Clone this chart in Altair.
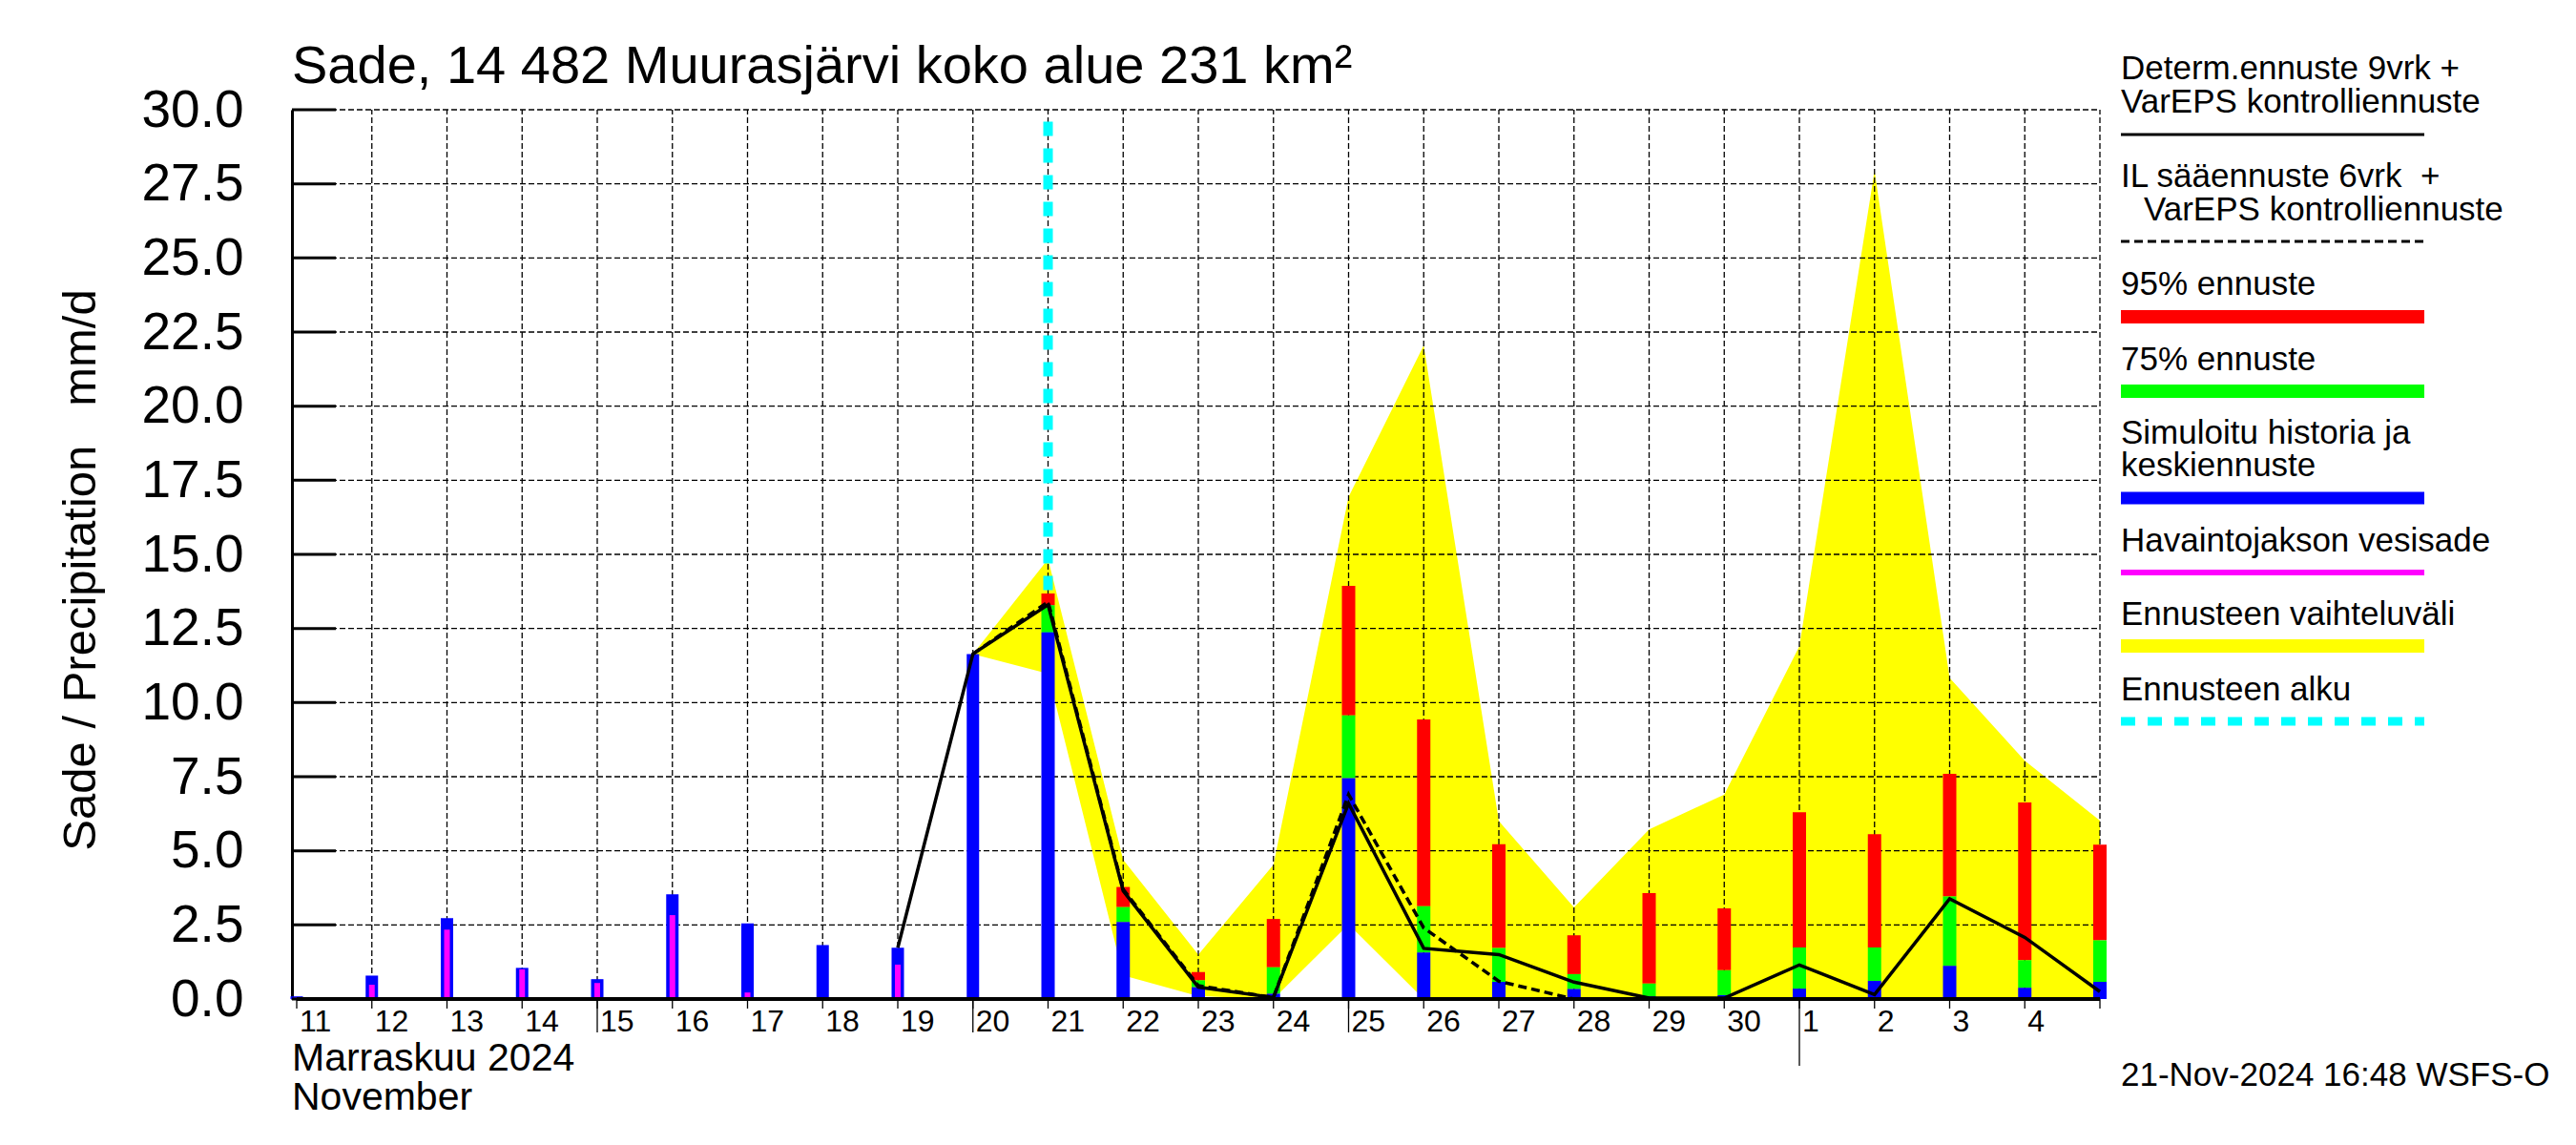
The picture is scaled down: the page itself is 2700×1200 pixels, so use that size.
import altair as alt
import pandas as pd

FONT = "Liberation Sans"

# ---------------- data (day index 0 = 11 Nov 2024, 24 = 5 Dec 2024) ----------------
day_labels = ["11", "12", "13", "14", "15", "16", "17", "18", "19", "20", "21", "22",
              "23", "24", "25", "26", "27", "28", "29", "30", "1", "2", "3", "4"]
grid_days = list(range(1, 25))
tick_days = list(range(0, 25))
long_tick_days = [4, 9, 14]
month_tick_days = [20]
y_ticks = [0, 2.5, 5, 7.5, 10, 12.5, 15, 17.5, 20, 22.5, 25, 27.5, 30]

hist_x = list(range(0, 11))
hist_blue = [0.09, 0.79, 2.73, 1.05, 0.67, 3.53, 2.55, 1.82, 1.73, 11.64, 12.37]
obs_x = list(range(0, 9))
obs_pink = [0.04, 0.48, 2.34, 1.00, 0.54, 2.83, 0.22, 0.02, 1.16]

fc_x = list(range(10, 25))
fc_blue = [12.37, 2.60, 0.40, 0.18, 7.45, 1.57, 0.58, 0.34, 0.09, 0.13, 0.35, 0.61, 1.12, 0.38, 0.58]
fc_green = [13.28, 3.10, 0.63, 1.07, 9.57, 3.13, 1.72, 0.84, 0.52, 0.97, 1.74, 1.74, 3.46, 1.31, 1.98]
fc_red = [13.68, 3.78, 0.91, 2.70, 13.94, 9.43, 5.22, 2.15, 3.57, 3.06, 6.30, 5.56, 7.60, 6.63, 5.21]

band_x = list(range(9, 25))
band_hi = [11.64, 14.84, 4.70, 1.50, 4.53, 16.94, 22.05, 6.00, 3.09, 5.72, 6.90, 11.90, 27.94, 10.83, 8.04, 6.02]
band_lo = [11.64, 10.98, 0.80, 0.10, 0.00, 2.52, 0.00, 0.00, 0.00, 0.00, 0.00, 0.00, 0.00, 0.00, 0.00, 0.00]

det_x = list(range(8, 25))
det_y = [1.73, 11.64, 13.30, 3.65, 0.40, 0.05, 6.60, 1.71, 1.50, 0.57, 0.03, 0.03, 1.15, 0.15, 3.38, 2.08, 0.25]

il_x = list(range(9, 19))
il_y = [11.64, 13.40, 3.70, 0.45, 0.05, 6.90, 2.40, 0.60, 0.00, 0.00]

forecast_start = [10]
forecast_start_top = [29.6]

title_text = "Sade, 14 482 Muurasjärvi koko alue 231 km²"
y_title = "Sade / Precipitation\u00a0\u00a0\u00a0mm/d"
month_fi = "Marraskuu 2024"
month_en = "November"
footer = "21-Nov-2024 16:48 WSFS-O"

legend_texts = [
    ("Determ.ennuste 9vrk +", 0, -32),
    ("VarEPS kontrolliennuste", 0, 3),
    ("IL sääennuste 6vrk\u00a0\u00a0+", 0, 81),
    ("VarEPS kontrolliennuste", 24, 116),
    ("95% ennuste", 0, 194),
    ("75% ennuste", 0, 273),
    ("Simuloitu historia ja", 0, 350),
    ("keskiennuste", 0, 384),
    ("Havaintojakson vesisade", 0, 463),
    ("Ennusteen vaihteluväli", 0, 540),
    ("Ennusteen alku", 0, 619),
]
# (y pixel, colour, width, dash)
legend_lines = [
    (26, "#000000", 3, None),
    (138, "#000000", 3, [9, 5]),
    (217, "#FF0000", 14, None),
    (295, "#00FF00", 14, None),
    (407, "#0000FF", 13, None),
    (485, "#FF00FF", 6, None),
    (562, "#FFFF00", 14, None),
    (641, "#00FFFF", 9, [15, 13]),
]

# ---------------- layout constants ----------------
W, H = 1900, 932
LEG_X0, LEG_X1 = 1917, 2235

xscale = alt.Scale(domain=[0, 24], nice=False, zero=False)
yscale = alt.Scale(domain=[0, 30], nice=False, zero=True)
yax = alt.Axis(values=y_ticks, format=".1f", labelFont=FONT, labelFontSize=55,
               labelColor="black", labelPadding=51, ticks=False, tickSize=0,
               grid=False, domainColor="black", domainWidth=3,
               labelFlush=False, labelOverlap=False,
               title=y_title, titleFont=FONT, titleFontSize=49,
               titleFontWeight="normal", titleColor="black",
               titleX=-207, titleY=482, titleAngle=270, titleAlign="center",
               titleBaseline="alphabetic")


def X(f="x"):
    return alt.X(f"{f}:Q", scale=xscale, axis=None)


def Y(f):
    return alt.Y(f"{f}:Q", scale=yscale, axis=yax)


one = pd.DataFrame({"k": [0]})

layers = []

# yellow range band
band = pd.DataFrame({"x": band_x, "hi": band_hi, "lo": band_lo})
layers.append(alt.Chart(band).mark_area(color="#FFFF00", opacity=1, interpolate="linear")
              .encode(x=X(), y=Y("hi"), y2="lo:Q"))

# grid lines
gh = pd.DataFrame({"v": y_ticks[1:], "x": [0] * 12, "x2": [24] * 12})
layers.append(alt.Chart(gh).mark_rule(color="black", strokeWidth=1.3, strokeDash=[6, 3])
              .encode(y=Y("v"), x=X("x"), x2="x2:Q"))
gv = pd.DataFrame({"x": grid_days, "lo": [0] * len(grid_days), "hi": [30] * len(grid_days)})
layers.append(alt.Chart(gv).mark_rule(color="black", strokeWidth=1.3, strokeDash=[6, 3])
              .encode(x=X(), y=Y("lo"), y2="hi:Q"))

# forecast start (cyan)
cy = pd.DataFrame({"x": forecast_start, "lo": [0], "hi": forecast_start_top})
layers.append(alt.Chart(cy).mark_rule(color="#00FFFF", strokeWidth=10, strokeDash=[15, 13])
              .encode(x=X(), y=Y("hi"), y2="lo:Q"))

# history bars
hb = pd.DataFrame({"x": hist_x, "v": hist_blue, "z": [0] * len(hist_x)})
layers.append(alt.Chart(hb).mark_bar(color="#0000FF", size=13)
              .encode(x=X(), y=Y("v"), y2="z:Q"))
ob = pd.DataFrame({"x": obs_x, "v": obs_pink, "z": [0] * len(obs_x)})
layers.append(alt.Chart(ob).mark_bar(color="#FF00FF", size=6)
              .encode(x=X(), y=Y("v"), y2="z:Q"))

# forecast stacked bars
fc = pd.DataFrame({"x": fc_x, "b": fc_blue, "g": fc_green, "r": fc_red, "z": [0] * len(fc_x)})
layers.append(alt.Chart(fc).mark_bar(color="#FF0000", size=14)
              .encode(x=X(), y=Y("r"), y2="g:Q"))
layers.append(alt.Chart(fc).mark_bar(color="#00FF00", size=14)
              .encode(x=X(), y=Y("g"), y2="b:Q"))
layers.append(alt.Chart(fc).mark_bar(color="#0000FF", size=14)
              .encode(x=X(), y=Y("b"), y2="z:Q"))

# lines
il = pd.DataFrame({"x": il_x, "v": il_y})
layers.append(alt.Chart(il).mark_line(color="black", strokeWidth=3.5, strokeDash=[9, 5])
              .encode(x=X(), y=Y("v")))
dt = pd.DataFrame({"x": det_x, "v": det_y})
layers.append(alt.Chart(dt).mark_line(color="black", strokeWidth=3.5)
              .encode(x=X(), y=Y("v")))

# inward y ticks
yt = pd.DataFrame({"v": y_ticks})
layers.append(alt.Chart(yt).mark_rule(color="black", strokeWidth=3)
              .encode(y=Y("v"), x=alt.value(0), x2=alt.value(46)))

# bottom axis line
ba = pd.DataFrame({"x": [0], "x2": [24], "v": [0]})
layers.append(alt.Chart(ba).mark_rule(color="black", strokeWidth=4)
              .encode(x=X(), x2="x2:Q", y=Y("v")))

# x ticks below axis
xt = pd.DataFrame({"x": tick_days})
layers.append(alt.Chart(xt).mark_rule(color="black", strokeWidth=1.3)
              .encode(x=X(), y=alt.value(H), y2=alt.value(H + 10)))
lt = pd.DataFrame({"x": long_tick_days})
layers.append(alt.Chart(lt).mark_rule(color="black", strokeWidth=1.3)
              .encode(x=X(), y=alt.value(H), y2=alt.value(H + 35)))
mt = pd.DataFrame({"x": month_tick_days})
layers.append(alt.Chart(mt).mark_rule(color="black", strokeWidth=1.3)
              .encode(x=X(), y=alt.value(H), y2=alt.value(H + 70)))

# x tick labels
xl = pd.DataFrame({"x": list(range(len(day_labels))), "t": day_labels})
layers.append(alt.Chart(xl).mark_text(font=FONT, fontSize=32, align="left", baseline="alphabetic",
                                      color="black", dx=3)
              .encode(x=X(), y=alt.value(H + 34), text="t:N"))


def text_layer(txt, px, py, size):
    return (alt.Chart(one)
            .mark_text(text=txt, font=FONT, fontSize=size, align="left",
                       baseline="alphabetic", color="black")
            .encode(x=alt.value(px), y=alt.value(py)))


layers.append(text_layer(title_text, 0, -28, 56))
layers.append(text_layer(month_fi, 0, 1007, 41))
layers.append(text_layer(month_en, 0, 1048, 41))
layers.append(text_layer(footer, LEG_X0, 1023, 35))
for txt, dx, py in legend_texts:
    layers.append(text_layer(txt, LEG_X0 + dx, py, 35))

for py, col, sw, dash in legend_lines:
    kw = dict(color=col, strokeWidth=sw)
    if dash:
        kw["strokeDash"] = dash
    layers.append(alt.Chart(one).mark_rule(**kw)
                  .encode(x=alt.value(LEG_X0), x2=alt.value(LEG_X1), y=alt.value(py)))

chart = (alt.layer(*layers)
         .properties(width=W, height=H,
                     padding={"left": 298, "top": 107, "right": 480, "bottom": 140},
                     autosize=alt.AutoSizeParams(type="none"),
                     background="white")
         .configure_view(stroke=None))

chart.save("out.html", embed_options={"renderer": "svg", "actions": False})
